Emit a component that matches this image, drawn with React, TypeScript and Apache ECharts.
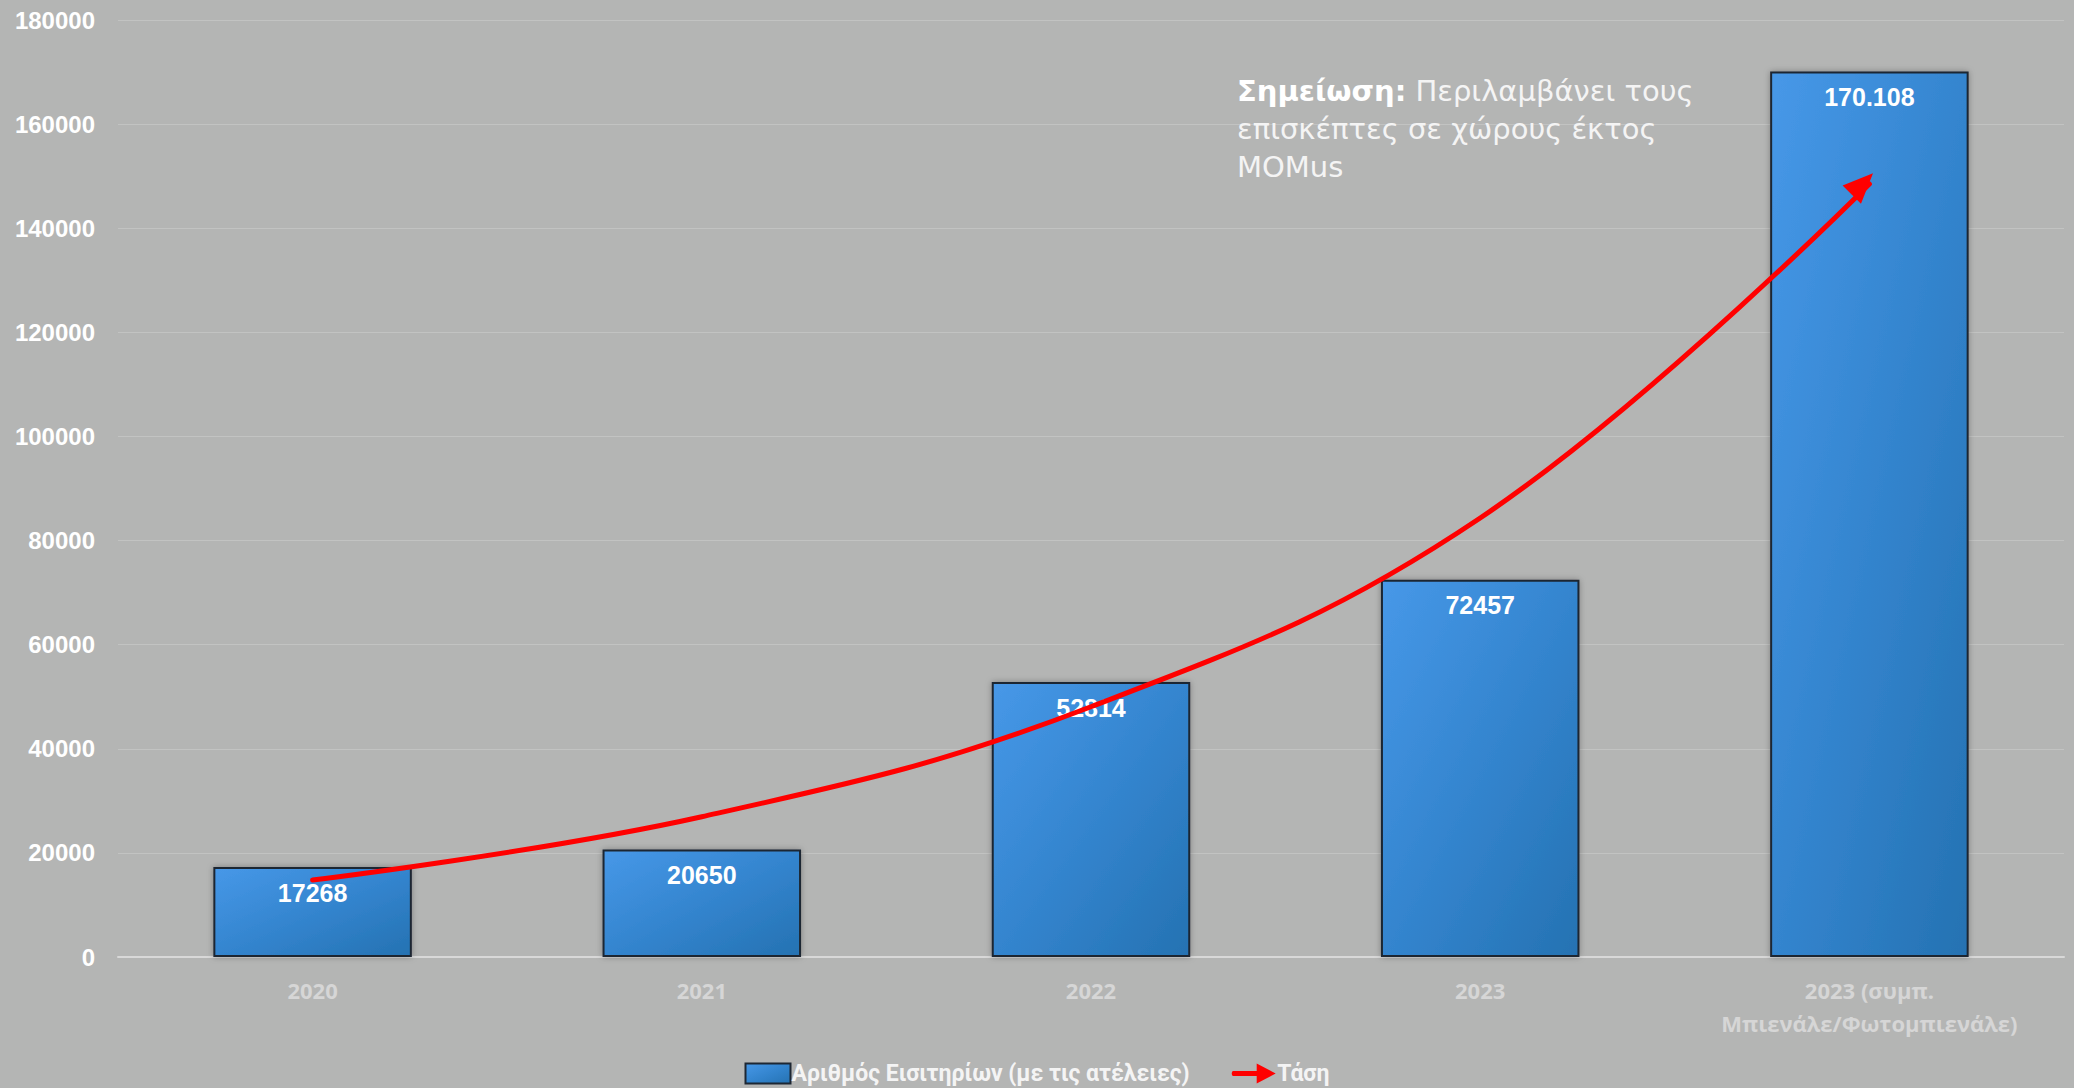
import React, { useEffect, useRef } from "react";
import * as echarts from "echarts";

const categories = [
  "2020",
  "2021",
  "2022",
  "2023",
  "2023 (συμπ.\nΜπιενάλε/Φωτομπιενάλε)",
];
const ticketValues = [17268, 20650, 52814, 72457, 170108];
const ticketLabels = ["17268", "20650", "52814", "72457", "170.108"];
const trendValues = [14790, 26950, 48080, 84330, 148500];
const barSeriesName = "Αριθμός Εισιτηρίων (με τις ατέλειες)";
const trendSeriesName = "Τάση";
const noteBold = "Σημείωση:";
const noteLines = [" Περιλαμβάνει τους", "επισκέπτες σε χώρους έκτος", "MOMus"];

export default function App() {
  const ref = useRef<HTMLDivElement>(null);
  useEffect(() => {
    if (!ref.current) return;
    const chart = echarts.init(ref.current, null, { renderer: "svg" });
    const barGradient = new echarts.graphic.LinearGradient(0, 0, 1, 1, [
      { offset: 0, color: "#4798e8" },
      { offset: 0.55, color: "#3283cc" },
      { offset: 1, color: "#2572b2" },
    ]);
    const arrowIcon =
      "path://M2,7.5 L26,7.5 L26,0 L45,10 L26,20 L26,12.5 L2,12.5 Q0,10 2,7.5 Z";
    chart.setOption({
      animation: false,
      backgroundColor: "#b4b5b4",
      grid: { left: 118, right: 10, top: 20, bottom: 131, containLabel: false },
      legend: {
        left: "center",
        top: 1062,
        padding: 0,
        itemWidth: 45,
        itemHeight: 20,
        itemGap: 42,
        textStyle: {
          color: "#f4f4f4",
          fontSize: 23,
          fontWeight: "bold",
          fontFamily: "Roboto, 'Noto Sans', sans-serif",
          padding: [0, 0, 0, -4],
        },
        data: [
          { name: barSeriesName, icon: "rect" },
          { name: trendSeriesName, icon: arrowIcon },
        ],
      },
      xAxis: {
        type: "category",
        data: categories,
        axisTick: { show: false },
        axisLine: { lineStyle: { color: "#d8d8d8", width: 2 } },
        axisLabel: {
          color: "#d6d6d6",
          fontSize: 22,
          fontWeight: 700,
          fontFamily: "'Open Sans', 'Noto Sans', sans-serif",
          lineHeight: 33,
          margin: 16,
          interval: 0,
        },
      },
      yAxis: {
        type: "value",
        min: 0,
        max: 180000,
        interval: 20000,
        axisLine: { show: false },
        axisTick: { show: false },
        splitLine: { lineStyle: { color: "#c2c3c2", width: 1 } },
        axisLabel: {
          color: "#ffffff",
          fontSize: 24,
          fontWeight: "bold",
          fontFamily: "'Liberation Sans', Arial, sans-serif",
          margin: 23,
          formatter: (v: number) => String(v),
        },
      },
      series: [
        {
          name: barSeriesName,
          type: "bar",
          data: ticketValues,
          barWidth: "51%",
          z: 2,
          itemStyle: {
            color: barGradient,
            borderColor: "#1d2733",
            borderWidth: 2,
            shadowColor: "rgba(0,0,0,0.3)",
            shadowBlur: 6,
          },
          label: {
            show: true,
            position: "insideTop",
            distance: 13,
            color: "#ffffff",
            fontSize: 25,
            fontWeight: "bold",
            fontFamily: "'Liberation Sans', Arial, sans-serif",
            formatter: (p: any) => ticketLabels[p.dataIndex],
          },
        },
        {
          name: trendSeriesName,
          type: "line",
          z: 5,
          smooth: 0.4,
          showSymbol: true,
          symbol: "none",
          itemStyle: { color: "#ff0000" },
          lineStyle: { color: "#ff0000", width: 5, cap: "round" },
          data: trendValues.map((v, i) =>
            i === trendValues.length - 1
              ? {
                  value: v,
                  symbol: "triangle",
                  symbolSize: [26, 30],
                  symbolRotate: -45,
                  symbolOffset: [-7, 0],
                }
              : { value: v }
          ),
        },
      ],
      graphic: [
        {
          type: "text",
          left: 1237,
          top: 76,
          z: 10,
          style: {
            text:
              "{b|" + noteBold + "}{r|" + noteLines[0] + "}\n{r|" + noteLines[1] + "}\n{r|" + noteLines[2] + "}",
            fill: "#f6f6f6",
            rich: {
              b: {
                fontSize: 29,
                fontWeight: "bold",
                fontFamily: "'DejaVu Sans', 'Noto Sans', sans-serif",
                fill: "#ffffff",
                lineHeight: 38,
              },
              r: {
                fontSize: 29,
                fontFamily: "'DejaVu Sans', 'Noto Sans', sans-serif",
                fill: "#f4f4f4",
                lineHeight: 38,
              },
            },
          },
        },
      ],
    });
    return () => chart.dispose();
  }, []);
  return (
    <div
      ref={ref}
      style={{ position: "fixed", left: 0, top: 0, width: 2074, height: 1088 }}
    />
  );
}
